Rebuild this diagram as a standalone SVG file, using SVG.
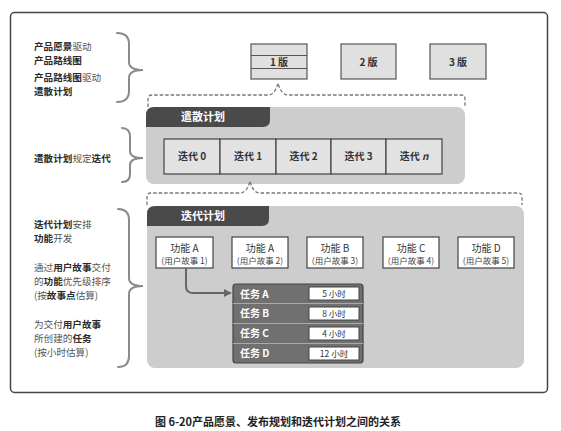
<svg xmlns="http://www.w3.org/2000/svg" width="561" height="431" viewBox="0 0 561 431">
<defs>
<style>
text{font-family:"Noto Sans CJK SC","Liberation Sans",sans-serif;}
.lb{font-size:9.6px;fill:#2b2b2b;font-weight:bold;}
.lr{fill:#555;font-weight:normal;}
.brace{fill:none;stroke:#8a8a8a;stroke-width:2;stroke-linecap:round;}
.dash{fill:none;stroke:#777;stroke-width:1.3;stroke-dasharray:3.5 2;}
.panel{fill:#cdcdcd;}
.tab{fill:#4a4a4a;}
.tabt{font-size:11px;font-weight:bold;fill:#fff;text-anchor:middle;}
.rel{fill:#e0e0e0;stroke:#555;stroke-width:1.2;}
.relt{font-size:10px;font-weight:bold;fill:#333;text-anchor:middle;}
.it{fill:#e2e2e2;stroke:#444;stroke-width:1.2;}
.itt{font-size:10px;font-weight:bold;fill:#333;text-anchor:middle;}
.ft{fill:#fff;stroke:#444;stroke-width:1.2;}
.ft1{font-size:10px;fill:#333;text-anchor:middle;}
.ft2{font-size:8.5px;fill:#444;text-anchor:middle;}
.tk{font-size:10px;font-weight:bold;fill:#fff;}
.tv{fill:#fff;stroke:#444;stroke-width:1;}
.tvt{font-size:8.5px;fill:#333;text-anchor:middle;}
</style>
<marker id="ah" viewBox="0 0 10 10" refX="9" refY="5" markerWidth="4" markerHeight="4" orient="auto"><path d="M0,0 L10,5 L0,10 Z" fill="#666"/></marker>
</defs>
<rect x="10.5" y="12.5" width="537" height="380" rx="4" fill="#fff" stroke="#444" stroke-width="1.5"/>

<g id="left-labels">
<text class="lb" x="34" y="50">产品愿景<tspan class="lr">驱动</tspan></text>
<text class="lb" x="34" y="64">产品路线图</text>
<text class="lb" x="34" y="81">产品路线图<tspan class="lr">驱动</tspan></text>
<text class="lb" x="34" y="95">遣散计划</text>
<text class="lb" x="34" y="162">遣散计划<tspan class="lr">规定</tspan>迭代</text>
<text class="lb" x="34" y="228">迭代计划<tspan class="lr">安排</tspan></text>
<text class="lb" x="34" y="242">功能<tspan class="lr">开发</tspan></text>
<text class="lb" x="34" y="271"><tspan class="lr">通过</tspan>用户故事<tspan class="lr">交付</tspan></text>
<text class="lb" x="34" y="285"><tspan class="lr">的</tspan>功能<tspan class="lr">优先级排序</tspan></text>
<text class="lb" x="34" y="299"><tspan class="lr">(按</tspan>故事点<tspan class="lr">估算)</tspan></text>
<text class="lb" x="34" y="328"><tspan class="lr">为交付</tspan>用户故事</text>
<text class="lb" x="34" y="342"><tspan class="lr">所创建的</tspan>任务</text>
<text class="lb" x="34" y="356"><tspan class="lr">(按小时估算)</tspan></text>
</g>

<g id="braces">
<path class="brace" d="M117,33 Q129,33 129,44 L129,62 Q129,70 143,70 Q129,70 129,78 L129,91 Q129,102 117,102"/>
<path class="brace" d="M122,128 Q130,128 130,137 L130,151 Q130,158 143,158 Q130,158 130,165 L130,174 Q130,182 122,182"/>
<path class="brace" d="M118,209 Q129,209 129,220 L129,278 Q129,286 143,286 Q129,286 129,294 L129,356 Q129,367 118,367"/>
</g>

<g id="release-1">
<rect class="rel" x="251" y="44" width="56" height="35"/>
<line x1="251" y1="55.5" x2="307" y2="55.5" stroke="#555" stroke-width="1"/>
<line x1="251" y1="68.5" x2="307" y2="68.5" stroke="#555" stroke-width="1"/>
<text class="relt" x="279" y="65.5">1 版</text>
</g>
<g id="release-2">
<rect class="rel" x="341" y="44" width="55" height="35"/>
<text class="relt" x="368.5" y="65.5">2 版</text>
</g>
<g id="release-3">
<rect class="rel" x="430" y="44" width="56" height="35"/>
<text class="relt" x="458" y="65.5">3 版</text>
</g>

<g id="release-plan">
<rect class="panel" x="146" y="107" width="319" height="77" rx="8"/>
<path class="tab" d="M146,127 L146,115 Q146,107 154,107 L270,107 L270,120 Q270,127 263,127 Z"/>
<text class="tabt" x="203" y="121">遣散计划</text>
</g>
<g id="iter-0"><rect class="it" x="164" y="139" width="56" height="35"/><text class="itt" x="192" y="160">迭代 0</text></g>
<g id="iter-1"><rect class="it" x="220" y="139" width="56" height="35"/><text class="itt" x="248" y="160">迭代 1</text></g>
<g id="iter-2"><rect class="it" x="276" y="139" width="55" height="35"/><text class="itt" x="303.5" y="160">迭代 2</text></g>
<g id="iter-3"><rect class="it" x="331" y="139" width="55" height="35"/><text class="itt" x="358.5" y="160">迭代 3</text></g>
<g id="iter-n"><rect class="it" x="386" y="139" width="56" height="35"/><text class="itt" x="414" y="160">迭代 <tspan font-style="italic">n</tspan></text></g>

<g id="iteration-plan">
<rect class="panel" x="147" y="206" width="377" height="162" rx="8"/>
<path class="tab" d="M147,226 L147,214 Q147,206 155,206 L269,206 L269,219 Q269,226 262,226 Z"/>
<text class="tabt" x="203" y="220">迭代计划</text>
</g>

<g id="feature-1"><rect class="ft" x="156" y="237" width="57" height="31"/><text class="ft1" x="184.5" y="252">功能 A</text><text class="ft2" x="184.5" y="264">(用户故事 1)</text></g>
<g id="feature-2"><rect class="ft" x="232" y="237" width="56" height="31"/><text class="ft1" x="260" y="252">功能 A</text><text class="ft2" x="260" y="264">(用户故事 2)</text></g>
<g id="feature-3"><rect class="ft" x="307" y="237" width="56" height="31"/><text class="ft1" x="335" y="252">功能 B</text><text class="ft2" x="335" y="264">(用户故事 3)</text></g>
<g id="feature-4"><rect class="ft" x="383" y="237" width="56" height="31"/><text class="ft1" x="411" y="252">功能 C</text><text class="ft2" x="411" y="264">(用户故事 4)</text></g>
<g id="feature-5"><rect class="ft" x="458" y="237" width="56" height="31"/><text class="ft1" x="486" y="252">功能 D</text><text class="ft2" x="486" y="264">(用户故事 5)</text></g>

<g id="tasks">
<rect x="233" y="284" width="130" height="79" rx="3" fill="#707070" stroke="#444" stroke-width="1.2"/>
<line x1="233" y1="303.5" x2="363" y2="303.5" stroke="#aaa" stroke-width="1"/>
<line x1="233" y1="323.5" x2="363" y2="323.5" stroke="#aaa" stroke-width="1"/>
<line x1="233" y1="343.5" x2="363" y2="343.5" stroke="#aaa" stroke-width="1"/>
<text class="tk" x="240" y="297.5">任务 A</text>
<text class="tk" x="240" y="317">任务 B</text>
<text class="tk" x="240" y="337">任务 C</text>
<text class="tk" x="240" y="357">任务 D</text>
<rect class="tv" x="309" y="287" width="50" height="13"/>
<rect class="tv" x="309" y="307" width="50" height="13"/>
<rect class="tv" x="309" y="327" width="50" height="13"/>
<rect class="tv" x="309" y="347" width="50" height="13"/>
<text class="tvt" x="334" y="296.5">5 小时</text>
<text class="tvt" x="334" y="316.5">8 小时</text>
<text class="tvt" x="334" y="336.5">4 小时</text>
<text class="tvt" x="334" y="356.5">12 小时</text>
</g>

<g id="connectors">
<path class="dash" d="M148,107 L148,99 Q148,95 152,95 L268,95 Q275,95 278,83 Q281,95 288,95 L461,95 Q465,95 465,99 L465,106"/>
<path class="dash" d="M147,205 L147,197 Q147,193 151,193 L240,193 Q247,193 250,181 Q253,193 260,193 L518,193 Q522,193 522,197 L522,205"/>
<path d="M186,268 L186,286 Q186,293 193,293 L231,293" fill="none" stroke="#666" stroke-width="2" marker-end="url(#ah)"/>
</g>

<text x="278" y="426" font-size="11" font-weight="bold" fill="#222" text-anchor="middle">图 6-20产品愿景、发布规划和迭代计划之间的关系</text>
</svg>
